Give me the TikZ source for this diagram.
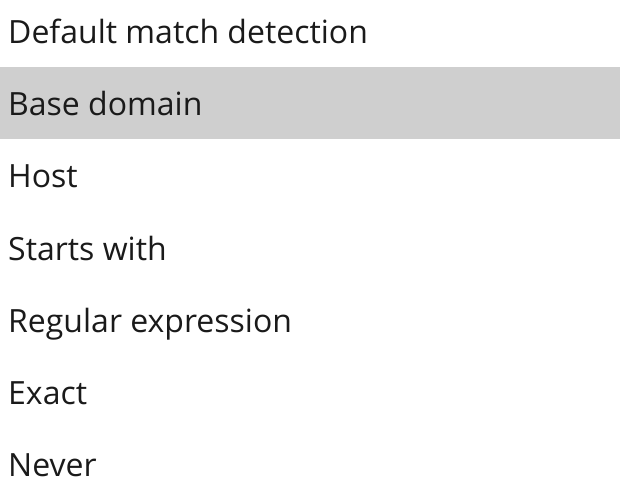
\documentclass[tikz,border=0pt]{standalone}
\usepackage{fontspec}
\setmainfont{Open Sans}
\definecolor{selgray}{HTML}{CFCFCF}
\definecolor{itemtext}{HTML}{1A1A1A}
\tikzset{item/.style={anchor=base west, inner sep=0pt, text=itemtext, font=\fontsize{32}{38}\selectfont}}
\begin{document}
\begin{tikzpicture}[x=1pt,y=-1pt]
\useasboundingbox (0,0) rectangle (620,494);
\fill[selgray] (0,67) rectangle (620,139);
\node[item] (D) at (8,44) {Default match detection};
\node[item] (B) at (8,116) {Base domain};
\node[item] (H) at (8,188) {Host};
\node[item] (S) at (8,260) {Starts with};
\node[item] (R) at (8,332) {Regular expression};
\node[item] (E) at (8,404) {Exact};
\node[item] (N) at (8,476) {Never};
\end{tikzpicture}
\end{document}
